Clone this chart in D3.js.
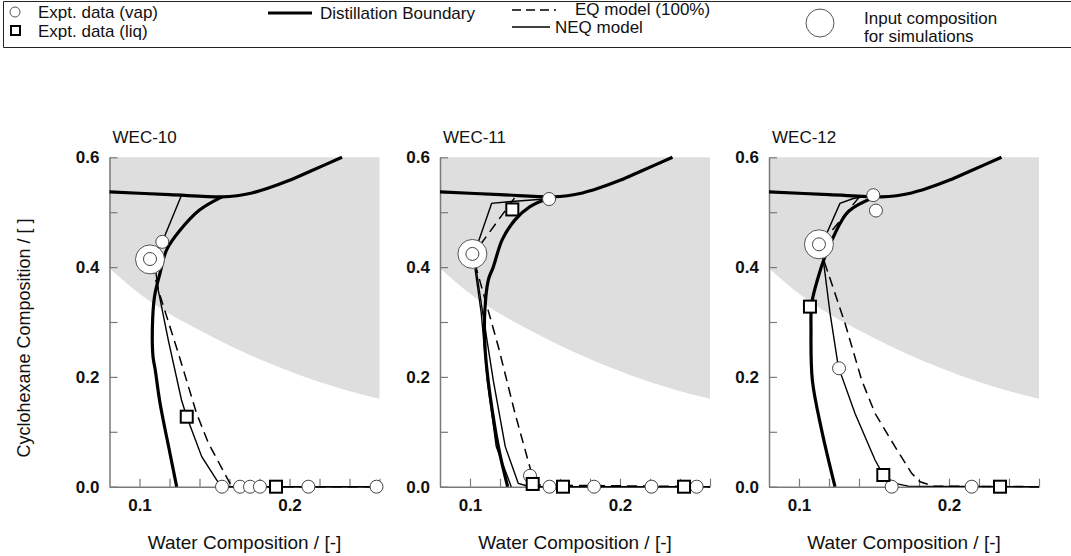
<!DOCTYPE html>
<html>
<head>
<meta charset="utf-8">
<script src="https://cdn.jsdelivr.net/npm/d3@7"></script>
<style>
  body { margin: 0; background: #fff; }
  svg { display: block; font-family: "Liberation Sans", Arial, sans-serif; }
</style>
</head>
<body>
<svg id="chart" width="1071" height="556"></svg>
<script>
const panelTitles = ['WEC-10', 'WEC-11', 'WEC-12'];
const panelLeft = [109.5, 440, 769];
const xTickValues = [0.1, 0.12, 0.14, 0.16, 0.18, 0.2, 0.22, 0.24, 0.26];
const xTickLabels = [0.1, 0.2];
const yTickValues = [0, 0.1, 0.2, 0.3, 0.4, 0.5, 0.6];
const yTickLabels = [0, 0.2, 0.4, 0.6];

// lower edge of the grey region (same in every panel)
const shadeEdge = [[0.08, 0.398], [0.097, 0.358], [0.12, 0.315], [0.14, 0.285], [0.16, 0.257],
  [0.1837, 0.228], [0.207, 0.203], [0.235, 0.178], [0.26, 0.16]];

// distillation boundary: horizontal branch + rising branch (shared)
const boundaryTop = [[0.08, 0.537], [0.12, 0.532], [0.155, 0.528], [0.165, 0.530], [0.175, 0.535],
  [0.185, 0.543], [0.2, 0.558], [0.215, 0.576], [0.235, 0.6]];

// distillation boundary: descending branch, one per panel
const boundaryLow10 = [[0.155, 0.528], [0.14, 0.504], [0.127, 0.467], [0.118, 0.431], [0.1137, 0.389],
  [0.110, 0.346], [0.1086, 0.291], [0.109, 0.237], [0.1105, 0.2126], [0.1137, 0.152], [0.1203, 0.061], [0.1248, 0]];
const boundaryLow11 = [[0.155, 0.528], [0.14, 0.51], [0.13, 0.486], [0.1215, 0.45], [0.1155, 0.40],
  [0.1122, 0.3765], [0.1098, 0.316], [0.1100, 0.255], [0.1113, 0.2126], [0.1135, 0.164], [0.1189, 0.073], [0.1251, 0]];
const boundaryLow12 = [[0.151, 0.528], [0.1329, 0.501], [0.1229, 0.455], [0.1169, 0.416], [0.1129, 0.3825],
  [0.1085, 0.334], [0.108, 0.285], [0.1089, 0.194], [0.1151, 0.103], [0.124, 0]];

// NEQ model (thin solid)
const neq10 = [[0.128, 0.531], [0.1152, 0.446], [0.107, 0.414], [0.1105, 0.40], [0.1125, 0.358], [0.1192, 0.267],
  [0.128, 0.158], [0.1315, 0.1275], [0.1415, 0.0546], [0.1515, 0.012], [0.1548, 0], [0.26, 0]];
const neq11 = [[0.15, 0.524], [0.1255, 0.519], [0.1144, 0.516], [0.1056, 0.446], [0.1016, 0.424], [0.104, 0.398],
  [0.1085, 0.316], [0.1155, 0.194], [0.1235, 0.073], [0.1322, 0.006], [0.14, 0], [0.26, 0]];
const neq11b = [[0.1033, 0.398], [0.1075, 0.316], [0.1115, 0.194], [0.1175, 0.073], [0.1275, 0]];
const neq12 = [[0.1495, 0.531], [0.1362, 0.525], [0.1273, 0.516], [0.1185, 0.4615], [0.1133, 0.4415], [0.1162, 0.413],
  [0.1207, 0.316], [0.1262, 0.2186], [0.1373, 0.1337], [0.1507, 0.0486], [0.1562, 0.0213], [0.164, 0.006],
  [0.1729, 0.001], [0.26, 0]];

// EQ model (dashed)
const eq10 = [[0.108, 0.405], [0.1135, 0.35], [0.1259, 0.243], [0.138, 0.134], [0.146, 0.079], [0.1603, 0.006],
  [0.165, 0], [0.26, 0]];
const eq11 = [[0.1297, 0.526], [0.1067, 0.44], [0.1016, 0.424], [0.104, 0.40], [0.1189, 0.255], [0.13, 0.1337],
  [0.1411, 0.024], [0.145, 0.003], [0.26, 0]];
const eq12 = [[0.14, 0.527], [0.1215, 0.465], [0.1133, 0.44], [0.1165, 0.413], [0.1307, 0.2976], [0.1418, 0.194],
  [0.1507, 0.1337], [0.164, 0.073], [0.1751, 0.0243], [0.1807, 0.009], [0.19, 0.001], [0.26, 0]];

// experimental data
const vap10 = [[0.1152, 0.446], [0.107, 0.4147], [0.155, 0], [0.167, 0], [0.1737, 0], [0.1803, 0], [0.2126, 0], [0.258, 0]];
const liq10 = [[0.1315, 0.1275], [0.191, 0]];
const vap11 = [[0.1527, 0.524], [0.1016, 0.424], [0.14, 0.02], [0.153, 0], [0.1827, 0], [0.221, 0], [0.2511, 0]];
const liq11 = [[0.1282, 0.505], [0.1418, 0.005], [0.162, 0], [0.2427, 0]];
const vap12 = [[0.1495, 0.531], [0.1513, 0.503], [0.1133, 0.4415], [0.1267, 0.2157], [0.1618, 0], [0.2151, 0]];
const liq12 = [[0.1073, 0.328], [0.1562, 0.0213], [0.234, 0]];

// input composition for simulations
const inputs = [[0.107, 0.414], [0.1016, 0.424], [0.1133, 0.4415]];

const panels = [
  { low: boundaryLow10, neq: [neq10], eq: eq10, vap: vap10, liq: liq10 },
  { low: boundaryLow11, neq: [neq11, neq11b], eq: eq11, vap: vap11, liq: liq11 },
  { low: boundaryLow12, neq: [neq12], eq: eq12, vap: vap12, liq: liq12 }
];

const svg = d3.select('#chart');
const plotWidth = 270;
const y = d3.scaleLinear().domain([0, 0.6]).range([486.7, 157.3]);
const axisColor = '#7a7a7a';

panels.forEach((p, i) => {
  const x = d3.scaleLinear().domain([0.08, 0.26]).range([panelLeft[i], panelLeft[i] + plotWidth]);
  const g = svg.append('g');
  const line = d3.line().x((d) => x(d[0])).y((d) => y(d[1]));
  const smooth = d3.line().x((d) => x(d[0])).y((d) => y(d[1])).curve(d3.curveCatmullRom.alpha(0.5));

  g.append('path')
    .datum(shadeEdge)
    .attr('fill', '#dedede')
    .attr('d', d3.area().x((d) => x(d[0])).y0(y(0.6)).y1((d) => y(d[1])).curve(d3.curveMonotoneX));

  const yAxis = g.append('g')
    .attr('transform', `translate(${panelLeft[i]},0)`)
    .call(d3.axisLeft(y).tickValues(yTickValues).tickSizeInner(-8).tickSizeOuter(0).tickPadding(10)
      .tickFormat((v) => (yTickLabels.some((t) => Math.abs(t - v) < 1e-9) ? d3.format('.1f')(v) : '')));
  const xAxis = g.append('g')
    .attr('transform', `translate(0,${y(0)})`)
    .call(d3.axisBottom(x).tickValues(xTickValues).tickSizeInner(-8).tickSizeOuter(0).tickPadding(12)
      .tickFormat((v) => (xTickLabels.some((t) => Math.abs(t - v) < 1e-9) ? d3.format('.1f')(v) : '')));
  [yAxis, xAxis].forEach((a) => {
    a.select('.domain').attr('stroke', axisColor).attr('stroke-width', 1.5);
    a.selectAll('.tick line').attr('stroke', axisColor).attr('stroke-width', 1.2);
    a.selectAll('.tick text').attr('fill', '#111').attr('font-size', 17).attr('font-weight', 'bold')
      .attr('font-family', '"Liberation Sans", Arial, sans-serif');
  });

  g.append('path').datum(boundaryTop).attr('fill', 'none').attr('stroke', '#000').attr('stroke-width', 3.2)
    .attr('d', smooth);
  g.append('path').datum(p.low).attr('fill', 'none').attr('stroke', '#000').attr('stroke-width', 3.2)
    .attr('d', smooth);

  p.neq.forEach((s) => {
    g.append('path').datum(s).attr('fill', 'none').attr('stroke', '#000').attr('stroke-width', 1.4).attr('d', line);
  });
  g.append('path').datum(p.eq).attr('fill', 'none').attr('stroke', '#000').attr('stroke-width', 1.5)
    .attr('stroke-dasharray', '10,6').attr('d', line);

  g.append('circle').attr('cx', x(inputs[i][0])).attr('cy', y(inputs[i][1])).attr('r', 14.5)
    .attr('fill', '#fff').attr('stroke', '#555').attr('stroke-width', 1);

  g.selectAll('.vap').data(p.vap).join('circle').attr('class', 'vap')
    .attr('cx', (d) => x(d[0])).attr('cy', (d) => y(d[1])).attr('r', 6.5)
    .attr('fill', '#fff').attr('stroke', '#444').attr('stroke-width', 1);
  g.selectAll('.liq').data(p.liq).join('rect').attr('class', 'liq')
    .attr('x', (d) => x(d[0]) - 6).attr('y', (d) => y(d[1]) - 6).attr('width', 12).attr('height', 12)
    .attr('fill', '#fff').attr('stroke', '#000').attr('stroke-width', 2);

  g.append('text').attr('x', panelLeft[i] + 3).attr('y', 143).attr('font-size', 17).attr('fill', '#111')
    .text(panelTitles[i]);
  g.append('text').attr('x', panelLeft[i] + 135).attr('y', 549).attr('text-anchor', 'middle')
    .attr('font-size', 19).attr('fill', '#111').text('Water Composition / [-]');
});

svg.append('text').attr('transform', 'translate(30,338) rotate(-90)').attr('text-anchor', 'middle')
  .attr('font-size', 18).attr('fill', '#111').text('Cyclohexane Composition / [ ]');

// legend
const lg = svg.append('g').attr('font-size', 17).attr('fill', '#111');
lg.append('path').attr('d', 'M1071,1.5H3.5V47.5H1071').attr('fill', 'none').attr('stroke', '#222').attr('stroke-width', 1);
lg.append('circle').attr('cx', 15).attr('cy', 12).attr('r', 5).attr('fill', '#fff').attr('stroke', '#555');
lg.append('text').attr('x', 38).attr('y', 18).text('Expt. data (vap)');
lg.append('rect').attr('x', 11).attr('y', 26).attr('width', 9).attr('height', 9).attr('fill', '#fff')
  .attr('stroke', '#000').attr('stroke-width', 2);
lg.append('text').attr('x', 38).attr('y', 37).text('Expt. data (liq)');
lg.append('line').attr('x1', 268).attr('x2', 312).attr('y1', 13).attr('y2', 13).attr('stroke', '#000').attr('stroke-width', 3);
lg.append('text').attr('x', 320).attr('y', 19).text('Distillation Boundary');
lg.append('line').attr('x1', 512).attr('x2', 556).attr('y1', 10).attr('y2', 10).attr('stroke', '#000')
  .attr('stroke-width', 1.4).attr('stroke-dasharray', '9,5');
lg.append('text').attr('x', 575).attr('y', 15).text('EQ model (100%)');
lg.append('line').attr('x1', 512).attr('x2', 550).attr('y1', 27).attr('y2', 27).attr('stroke', '#000').attr('stroke-width', 1.4);
lg.append('text').attr('x', 555).attr('y', 33).text('NEQ model');
lg.append('circle').attr('cx', 820).attr('cy', 23).attr('r', 14).attr('fill', '#fff').attr('stroke', '#555');
lg.append('text').attr('x', 864).attr('y', 24).text('Input composition');
lg.append('text').attr('x', 864).attr('y', 42).text('for simulations');
</script>
</body>
</html>
